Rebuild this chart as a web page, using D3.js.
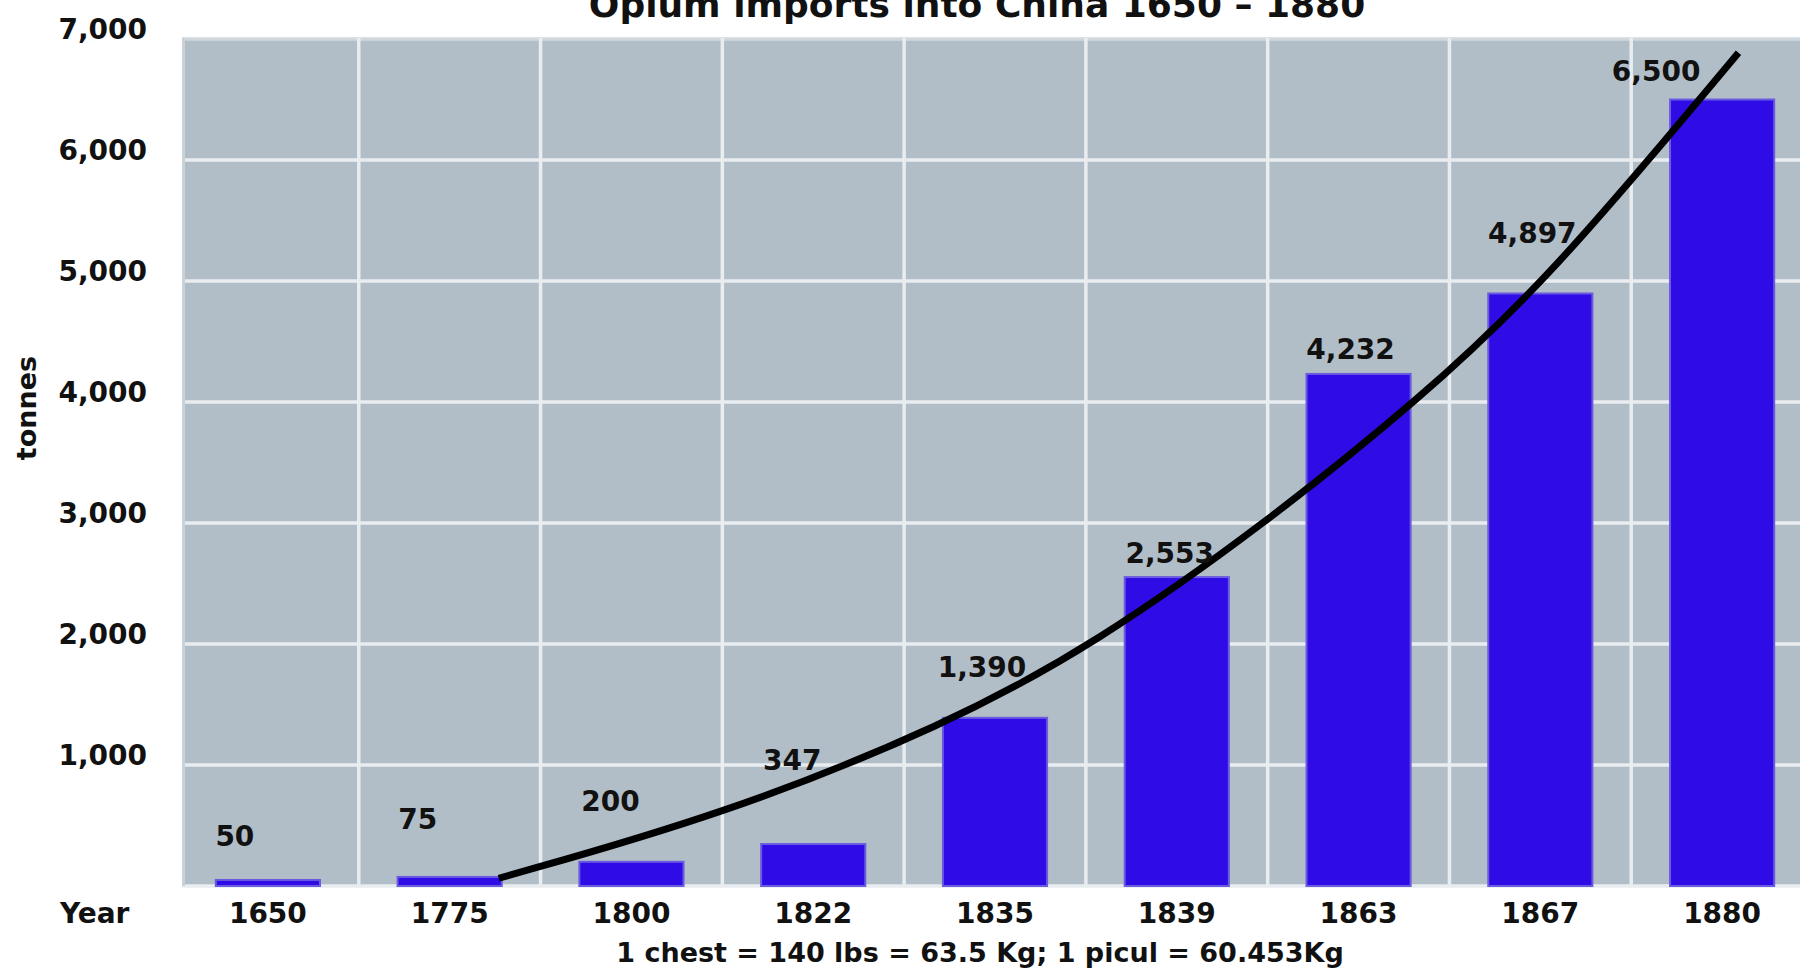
<!DOCTYPE html>
<html>
<head>
<meta charset="utf-8">
<script src="https://cdn.jsdelivr.net/npm/d3@7"></script>
<style>
  body { margin: 0; background: #fff; }
  svg text { font-family: "DejaVu Sans", sans-serif; font-weight: bold; fill: #111; }
</style>
</head>
<body>
<svg id="chart" width="1800" height="971"></svg>
<script>
// data
const years = ["1650", "1775", "1800", "1822", "1835", "1839", "1863", "1867", "1880"];
const tonnes = [50, 75, 200, 347, 1390, 2553, 4232, 4897, 6500];
const yTicks = [0, 1000, 2000, 3000, 4000, 5000, 6000, 7000];

// trend curve, position in category units (0 = 1650) and tonnes
const trendPos = [1.27, 2.50, 3.73, 4.56, 5.49, 6.33, 7.04, 8.09];
const trendTonnes = [64, 586, 1329, 2008, 2999, 4018, 5002, 6887];

// hand placed value labels: nudge from bar centre / bar top (px)
const labelNudge = [[-33, -34], [-32, -48], [-21, -51], [-21, -74], [-13, -41], [-7, -14], [-8, -15], [-8, -50], [-66, -19]];

var svg = d3.select("#chart");

var plot = { left: 182, right: 1800, top: 38, bottom: 886 };

var x = d3.scaleBand()
    .domain(years)
    .range([177, 1813])
    .paddingInner(0.427)
    .paddingOuter(0.2135);

var y = d3.scaleLinear()
    .domain([0, 7000])
    .range([plot.bottom, 39]);

var step = x.step();
var xt = d3.scaleLinear()
    .domain([0, years.length - 1])
    .range([x(years[0]) + x.bandwidth() / 2, x(years[years.length - 1]) + x.bandwidth() / 2]);

// plot background
svg.append("rect")
    .attr("x", plot.left)
    .attr("y", plot.top)
    .attr("width", plot.right - plot.left)
    .attr("height", plot.bottom - plot.top + 1)
    .attr("fill", "#b2bec7");

// grid
var grid = svg.append("g").attr("class", "grid");
grid.selectAll(".hline")
    .data(yTicks)
    .enter()
    .append("line")
        .attr("x1", plot.left)
        .attr("x2", plot.right)
        .attr("y1", function(d){ return y(d); })
        .attr("y2", function(d){ return y(d); })
        .attr("stroke", function(d){ return d === 7000 ? "#d0d8dd" : "#e9edf0"; })
        .attr("stroke-width", 3.5);

grid.selectAll(".vline")
    .data(years.slice(1))
    .enter()
    .append("line")
        .attr("x1", function(d){ return x(d) - step * x.paddingInner() / 2; })
        .attr("x2", function(d){ return x(d) - step * x.paddingInner() / 2; })
        .attr("y1", plot.top)
        .attr("y2", plot.bottom)
        .attr("stroke", "#e9edf0")
        .attr("stroke-width", 3.5);

grid.append("line")
    .attr("x1", plot.left + 1.5)
    .attr("x2", plot.left + 1.5)
    .attr("y1", plot.top)
    .attr("y2", plot.bottom)
    .attr("stroke", "#c9d2d8")
    .attr("stroke-width", 3);

// bars
svg.append("g")
    .selectAll("rect")
    .data(tonnes)
    .enter()
    .append("rect")
        .attr("x", function(d, i){ return x(years[i]); })
        .attr("y", function(d){ return y(d); })
        .attr("width", x.bandwidth())
        .attr("height", function(d){ return y(0) - y(d); })
        .attr("fill", "#2f0ce6")
        .attr("stroke", "#6b5be0")
        .attr("stroke-width", 2);

// trend curve
var line = d3.line()
    .x(function(d){ return xt(d[0]); })
    .y(function(d){ return y(d[1]); })
    .curve(d3.curveBasis);

svg.append("path")
    .datum(d3.zip(trendPos, trendTonnes))
    .attr("d", line)
    .attr("fill", "none")
    .attr("stroke", "#000")
    .attr("stroke-width", 7)
    .attr("stroke-linecap", "butt");

// value labels
svg.append("g")
    .selectAll("text")
    .data(tonnes)
    .enter()
    .append("text")
        .attr("x", function(d, i){ return x(years[i]) + x.bandwidth() / 2 + labelNudge[i][0]; })
        .attr("y", function(d, i){ return y(d) + labelNudge[i][1]; })
        .attr("text-anchor", "middle")
        .attr("font-size", 28)
        .text(function(d){ return d3.format(",")(d); });

// y axis labels
svg.append("g")
    .selectAll("text")
    .data(yTicks.slice(1))
    .enter()
    .append("text")
        .attr("x", 147)
        .attr("y", function(d){ return y(d); })
        .attr("text-anchor", "end")
        .attr("font-size", 28)
        .text(function(d){ return d3.format(",")(d); });

// x axis labels
svg.append("g")
    .selectAll("text")
    .data(years)
    .enter()
    .append("text")
        .attr("x", function(d){ return x(d) + x.bandwidth() / 2; })
        .attr("y", 923)
        .attr("text-anchor", "middle")
        .attr("font-size", 28)
        .text(function(d){ return d; });

svg.append("text")
    .attr("x", 60)
    .attr("y", 923)
    .attr("font-size", 28)
    .text("Year");

svg.append("text")
    .attr("transform", "translate(36,408) rotate(-90)")
    .attr("text-anchor", "middle")
    .attr("font-size", 27)
    .text("tonnes");

svg.append("text")
    .attr("x", 980)
    .attr("y", 962)
    .attr("text-anchor", "middle")
    .attr("font-size", 27)
    .text("1 chest = 140 lbs = 63.5 Kg; 1 picul = 60.453Kg");

// title, cut off by the top edge as in the original
svg.append("text")
    .attr("x", 977)
    .attr("y", 17)
    .attr("text-anchor", "middle")
    .attr("font-size", 36)
    .text("Opium imports into China 1650 – 1880");
</script>
</body>
</html>
